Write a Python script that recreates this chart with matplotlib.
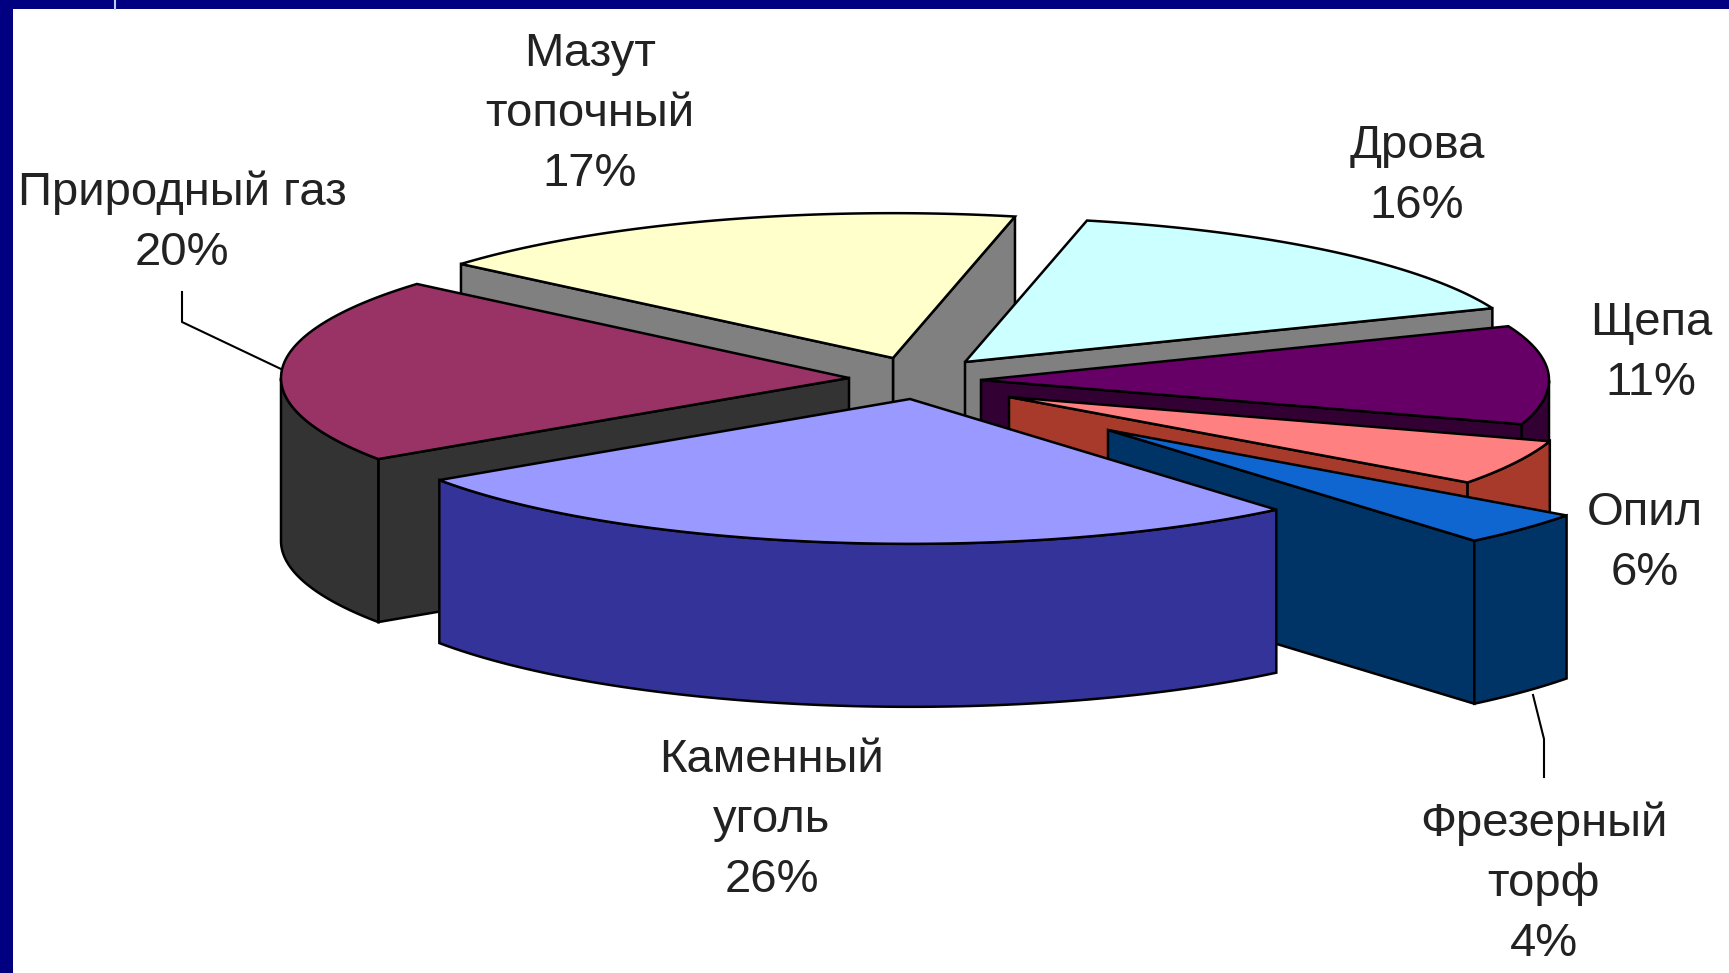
"""Exploded 3D pie of boiler fuel shares, drawn as extruded wedges on a pixel canvas."""

from __future__ import annotations

import matplotlib

matplotlib.use("Agg")
import matplotlib.pyplot as plt
import numpy as np

WIDTH, HEIGHT = 1729, 973

# drawn clockwise starting from the back of the pie
names = ["Дрова", "Щепа", "Опил", "Фрезерный\nторф", "Каменный\nуголь", "Природный газ", "Мазут\nтопочный"]
values = [16, 11, 6, 4, 26, 20, 17]
# share of the circle each wedge really takes up in the picture
drawn_shares = [15.5, 11.0, 5.1, 3.8, 26.7, 20.7, 17.2]
top_colors = ["#CCFFFF", "#660066", "#FF8080", "#0F66D0", "#9999FF", "#993366", "#FFFFCC"]
side_colors = ["#808080", "#330033", "#A83A2C", "#003366", "#333399", "#333333", "#808080"]

# layout, in pixels of the output picture
apexes = [(965, 362), (981, 380), (1009, 397), (1108, 430), (910, 399), (849, 378), (893, 358)]
label_pos = [(1417, 176), (1651, 353), (1645, 543), (1544, 884), (772, 820), (182, 223), (590, 114)]
paint_order = [6, 0, 5, 1, 2, 3, 4]
START_ANGLE = 77.6
RADIUS = 568.0
SQUASH = 0.255
DEPTH = 163.0
NAVY = "#000080"
EDGE = "#000000"


def project(apex: tuple[float, float], theta: np.ndarray) -> tuple[np.ndarray, np.ndarray]:
    """Ground-plane angles on the rim to picture pixels."""
    return apex[0] + RADIUS * np.cos(theta), apex[1] - RADIUS * SQUASH * np.sin(theta)


def side_face(ax, xs, ys, color: str) -> None:
    """Extrude a top edge straight down into one filled side face."""
    x = np.concatenate([xs, xs[::-1]])
    y = np.concatenate([ys, ys[::-1] + DEPTH])
    ax.fill(x, y, facecolor=color, edgecolor=EDGE, linewidth=1.8, joinstyle="miter")


def draw_slice(ax, apex, t1: float, t2: float, top: str, side: str) -> None:
    """One wedge from t1 to t2 (radians, counter-clockwise): visible walls, rim, then top."""
    if np.sin(t1 - np.pi / 2) < 0:
        x, y = project(apex, np.array([t1]))
        side_face(ax, np.array([apex[0], x[0]]), np.array([apex[1], y[0]]), side)
    if np.sin(t2 + np.pi / 2) < 0:
        x, y = project(apex, np.array([t2]))
        side_face(ax, np.array([apex[0], x[0]]), np.array([apex[1], y[0]]), side)

    theta = np.linspace(t1, t2, 80)
    front = theta[np.sin(theta) < 0]
    if front.size > 1:
        x, y = project(apex, front)
        side_face(ax, x, y, side)

    x, y = project(apex, theta)
    ax.fill(np.r_[apex[0], x], np.r_[apex[1], y], facecolor=top, edgecolor=EDGE, linewidth=1.8, joinstyle="miter")


def main() -> None:
    plt.rcParams["font.family"] = ["Liberation Sans", "DejaVu Sans"]
    fig = plt.figure(figsize=(WIDTH / 100, HEIGHT / 100), dpi=100, facecolor="white")
    ax = fig.add_axes((0, 0, 1, 1))
    ax.set_xlim(0, WIDTH)
    ax.set_ylim(HEIGHT, 0)
    ax.axis("off")

    # slide frame
    ax.fill([0, 13, 13, 0], [0, 0, HEIGHT, HEIGHT], color=NAVY, linewidth=0)
    ax.fill([0, WIDTH, WIDTH, 0], [0, 0, 9, 9], color=NAVY, linewidth=0)
    ax.plot([115, 115], [0, 9], color="#B8D0F0", linewidth=1.5)

    sweep = np.deg2rad(np.array(drawn_shares) * 3.6)
    ends = np.deg2rad(START_ANGLE) - np.cumsum(sweep)
    starts = ends + sweep
    for i in paint_order:
        draw_slice(ax, apexes[i], ends[i], starts[i], top_colors[i], side_colors[i])

    # leader lines
    ax.plot([182, 182, 281], [292, 322, 369], color=EDGE, linewidth=1.5)
    ax.plot([1533, 1544, 1544], [695, 739, 777], color=EDGE, linewidth=1.5)

    for name, value, pos in zip(names, values, label_pos):
        ax.text(pos[0], pos[1], f"{name}\n{value}%", ha="center", va="center", fontsize=34,
                color="#222222", linespacing=1.47)

    fig.savefig("out.png", dpi=100)
    plt.close(fig)


if __name__ == "__main__":
    main()
